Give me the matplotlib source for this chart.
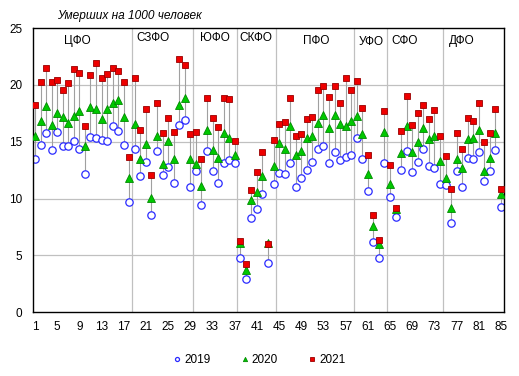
import matplotlib
matplotlib.use("Agg")
import matplotlib.pyplot as plt
import numpy as np

plt.rcParams['font.family'] = ['Liberation Sans', 'DejaVu Sans']

# federal districts and number of regions in each
districts = ['ЦФО', 'СЗФО', 'ЮФО', 'СКФО', 'ПФО', 'УФО', 'СФО', 'ДФО']
district_sizes = [18, 11, 8, 7, 14, 6, 10, 11]

# deaths per 1000 people, regions 1..85
y2019 = [13.48, 14.71, 15.73, 14.27, 15.85, 14.59, 14.65, 15.09, 14.36, 12.13, 15.41, 15.29, 15.15, 15.06, 16.35, 15.94, 14.68, 9.68,
         14.33, 11.99, 13.19, 8.57, 14.18, 12.05, 12.75, 11.35, 16.46, 16.9, 11.02,
         12.43, 9.44, 14.18, 12.43, 11.35, 13.13, 13.39, 13.1,
         4.79, 2.92, 8.27, 9.09, 10.41, 4.34, 11.3,
         12.22, 12.17, 13.16, 11.02, 11.84, 12.49, 13.22, 14.33, 14.59, 13.13, 14.06, 13.42, 13.68, 13.8,
         15.32, 13.48, 10.64, 6.2, 4.8, 13.13,
         10.15, 8.35, 12.51, 14.18, 12.31, 13.22, 14.33, 12.84, 12.69, 11.26,
         11.17, 7.84, 12.4, 11.02, 13.57, 13.48, 14.09, 11.55, 12.4, 14.24, 9.27]
y2020 = [15.5, 16.84, 18.13, 16.49, 17.54, 17.19, 16.61, 17.25, 17.72, 14.59, 18.07, 17.89, 17.02, 17.84, 18.42, 18.68, 17.19, 11.84,
         16.52, 13.45, 14.82, 10.09, 15.53, 13.01, 15.03, 13.45, 18.25, 18.86, 13.5,
         13.04, 11.14, 16.05, 14.3, 13.6, 15.79, 15.35, 13.86,
         6.1, 3.71, 9.91, 10.6, 12.0, 6.1, 12.88,
         14.92, 14.32, 16.4, 13.86, 14.18, 15.35, 15.53, 16.67, 17.31, 16.2, 17.37, 16.58, 16.37, 16.78,
         17.25, 15.7, 12.16, 7.63, 5.97, 15.88,
         11.32, 9.1, 14.04, 16.4, 14.12, 14.94, 16.23, 15.23, 15.53, 13.33,
         11.84, 9.21, 13.51, 12.72, 15.23, 15.35, 16.05, 12.46, 13.6, 15.79, 10.38]
y2021 = [18.27, 20.26, 21.49, 20.26, 20.44, 19.56, 20.18, 21.4, 21.08, 16.4, 20.88, 21.93, 20.61, 20.96, 21.52, 21.26, 20.26, 13.7,
         20.61, 16.05, 17.89, 12.05, 18.42, 15.73, 17.13, 15.82, 22.31, 21.75, 15.7,
         15.88, 13.5, 18.86, 17.11, 16.32, 18.86, 18.77, 15.03,
         6.28, 4.24, 10.79, 12.3, 14.12, 5.97, 15.17,
         16.58, 16.7, 18.86, 15.53, 15.64, 17.02, 17.16, 19.56, 19.91, 18.89, 19.91, 18.42, 20.61, 19.56,
         20.32, 17.98, 13.86, 8.52, 6.32, 17.72,
         12.98, 9.15, 15.96, 19.06, 16.49, 17.54, 18.19, 17.02, 17.81, 15.53,
         13.71, 10.82, 15.73, 14.39, 17.11, 16.84, 18.42, 15.0, 15.73, 17.9, 10.88]

x = np.arange(1, len(y2019) + 1)
data = np.array([y2019, y2020, y2021])

fig = plt.figure(figsize=(5.19, 3.76), dpi=100)
ax = fig.add_axes([0.0642, 0.1694, 0.9075, 0.7561])

# horizontal grid
for g in [5, 10, 15, 20]:
    ax.axhline(g, color='#c0c0c0', lw=0.9, zorder=0)

# district separators
bounds = np.cumsum(district_sizes)[:-1] + 0.5
for b in bounds:
    ax.axvline(b, color='#c0c0c0', lw=0.9, zorder=0)

# high-low lines
ax.vlines(x, data.min(axis=0), data.max(axis=0), color='#a0a0a0', lw=0.8, zorder=1)

ax.plot(x, y2019, ls='none', marker='o', ms=5.3, mfc='white', mec='#2a2aff', mew=0.9, label='2019', zorder=2)
ax.plot(x, y2020, ls='none', marker='^', ms=5.6, mfc='#00c800', mec='#008a00', mew=0.6, label='2020', zorder=3)
ax.plot(x, y2021, ls='none', marker='s', ms=4.9, mfc='#ee0000', mec='#990000', mew=0.6, label='2021', zorder=4)

# district labels
label_x = [8.7, 22.3, 33.4, 40.8, 51.6, 61.6, 67.7, 78.0]
label_y = [23.85, 24.1, 24.1, 24.1, 23.85, 23.8, 23.85, 23.85]
for name, lx, ly in zip(districts, label_x, label_y):
    ax.text(lx, ly, name, ha='center', va='center', fontsize=8.5, zorder=5)

ax.set_xlim(0.7, 85.6)
ax.set_ylim(0, 25)
ax.set_xticks(np.arange(1, 86, 4))
ax.set_yticks(np.arange(0, 26, 5))
ax.tick_params(axis='both', length=0, labelsize=8.5)
ax.tick_params(axis='y', pad=8)
ax.tick_params(axis='x', pad=6)
for s in ax.spines.values():
    s.set_color('black')
    s.set_linewidth(1.0)

fig.text(0.11, 0.957, 'Умерших на 1000 человек', fontsize=8.6, style='italic', ha='left', va='center')

leg = fig.legend(loc='center', bbox_to_anchor=(0.5, 1 - 360 / 376), ncol=3, frameon=False,
                 fontsize=8.5, markerscale=0.55, handlelength=0.6, handletextpad=0.3, columnspacing=2.6)

fig.savefig('out.png', dpi=100)
